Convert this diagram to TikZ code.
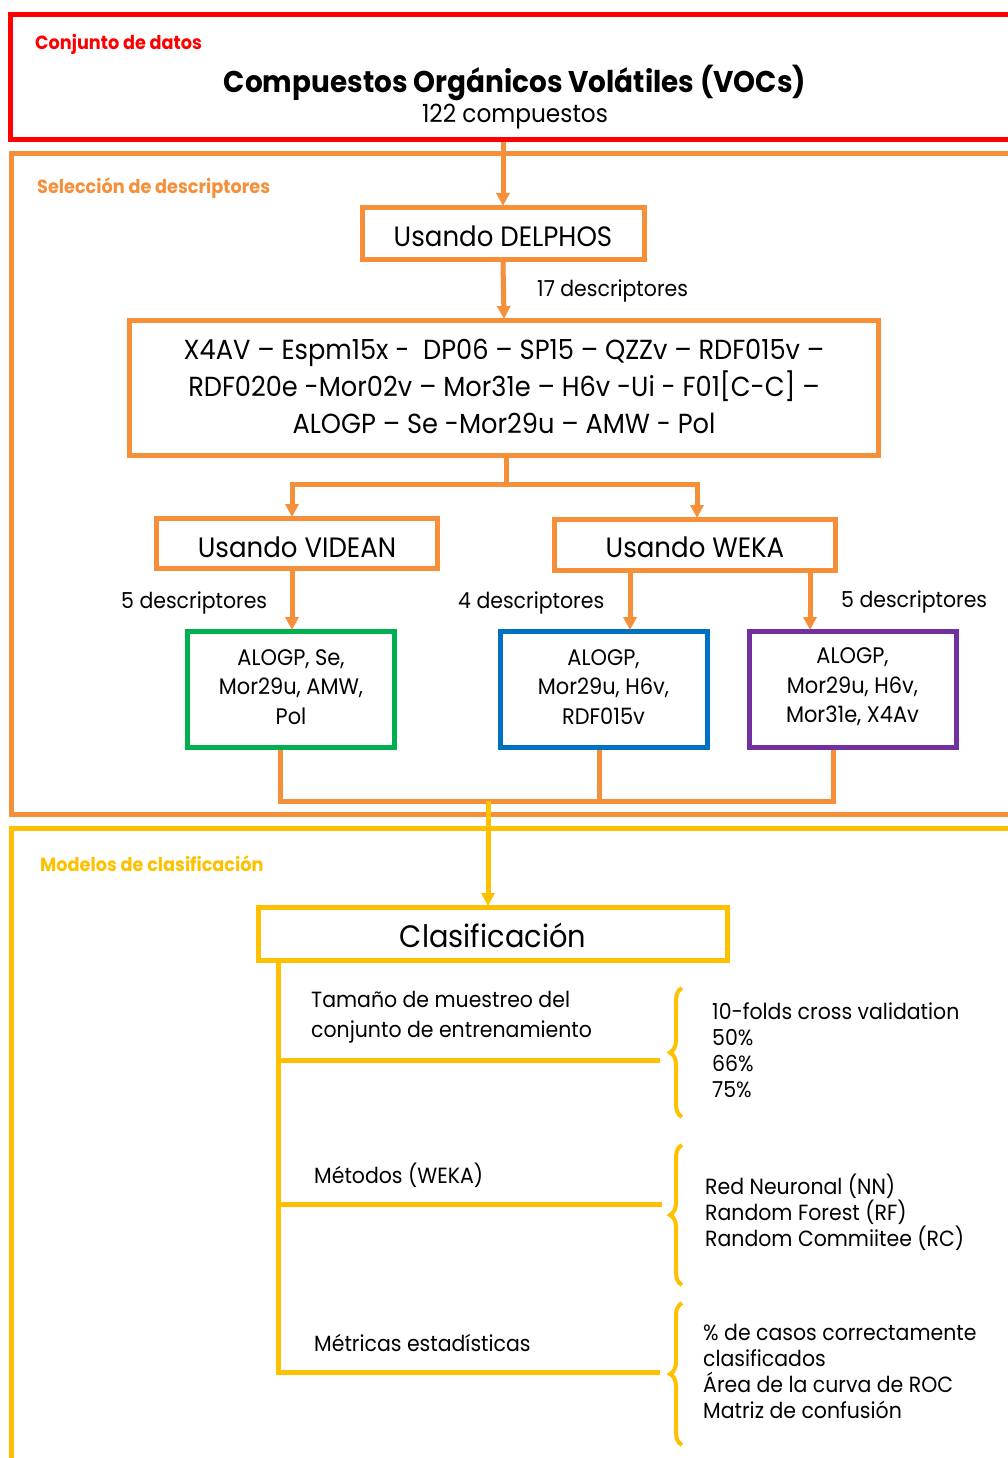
\documentclass[tikz,border=0pt]{standalone}
\usepackage{fontspec}
\setmainfont[FakeStretch=0.93]{Poppins}
\usetikzlibrary{arrows.meta,decorations.pathreplacing}
\definecolor{cred}{HTML}{FF0000}
\definecolor{corange}{HTML}{F58F3A}
\definecolor{cyellow}{HTML}{FFC000}
\definecolor{cgreen}{HTML}{00B050}
\definecolor{cblue}{HTML}{0070C0}
\definecolor{cpurple}{HTML}{7030A0}
\newcommand{\fs}[1]{\fontsize{#1}{1.2\dimexpr#1pt\relax}\selectfont}
\begin{document}
\begin{tikzpicture}[x=1pt,y=-1pt,
  frame/.style={draw=#1, line width=5pt, inner sep=0pt},
  box/.style={draw=#1, line width=5pt, inner sep=0pt, fill=white},
  txt/.style={inner sep=0pt, align=center},
  conn/.style={draw=#1, line width=5pt},
  arr/.style={draw=#1, line width=5pt, -{Triangle[width=13pt,length=13pt]}, shorten >=-1pt},
  seclabel/.style={anchor=west, inner sep=0pt, font=\bfseries\fs{19}, text=#1},
  lbl/.style={inner sep=0pt, font=\fs{22}},
  brace/.style={draw=cyellow, line width=4pt, decorate,
    decoration={brace, amplitude=12pt}}]
\useasboundingbox (0,0) rectangle (1008,1458);

% ---- section frames ----
\node[frame=cred, minimum width=1010pt, minimum height=125pt] (datos) at (515.5,77) {};
\node[frame=corange, minimum width=1009pt, minimum height=661pt] (seleccion) at (516,484) {};
\node[frame=cyellow, minimum width=1009pt, minimum height=650pt] (modelos) at (516,1153) {};

\node[seclabel=cred] (lbldatos) at (35,44) {Conjunto de datos};
\node[seclabel=corange] (lblsel) at (37,188) {Selección de descriptores};
\node[seclabel=cyellow] (lblmod) at (40,864) {Modelos de clasificación};

% ---- data set ----
\node[inner sep=0pt, font=\bfseries\fs{30}] (titulo) at (515,83) {Compuestos Orgánicos Volátiles (VOCs)};
\node[inner sep=0pt, font=\fs{25}] (ncomp) at (515,117) {122 compuestos};

% ---- descriptor selection ----
\node[box=corange, minimum width=282pt, minimum height=52pt] (delphos) at (503,233.5) {};
\node[txt, font=\fs{28}] (tdelphos) at ([yshift=-3pt]delphos.center) {Usando DELPHOS};
\node[box=corange, minimum width=749pt, minimum height=135pt] (todos) at (504,388) {};
\node[txt, font=\fontsize{27.6}{37}\selectfont] (ttodos) at ([yshift=2pt]todos.center)
  {X4AV – Espm15x -\ \ DP06 – SP15 – QZZv – RDF015v –\\
   RDF020e -Mor02v – Mor31e – H6v -Ui - F01[C-C] –\\
   ALOGP – Se -Mor29u – AMW - Pol};
\node[box=corange, minimum width=281pt, minimum height=50pt] (videan) at (297,543.5) {};
\node[txt, font=\fs{28}] (tvidean) at ([yshift=-3.5pt]videan.center) {Usando VIDEAN};
\node[box=corange, minimum width=281pt, minimum height=51pt] (weka) at (695,545) {};
\node[txt, font=\fs{28}] (tweka) at ([yshift=-2pt]weka.center) {Usando WEKA};

\tikzset{res/.style={box=#1, minimum width=207pt, minimum height=116pt},
         restxt/.style={txt, font=\fontsize{22.5}{29.5}\selectfont}}
\node[res=cgreen] (sgreen) at (291,689.5) {};
\node[restxt] (tgreen) at ([yshift=2.5pt]sgreen.center) {ALOGP, Se,\\ Mor29u, AMW,\\ Pol};
\node[res=cblue] (sblue) at (603.5,689.5) {};
\node[restxt] (tblue) at ([yshift=2.5pt]sblue.center) {ALOGP,\\ Mor29u, H6v,\\ RDF015v};
\node[res=cpurple] (spurple) at (852.5,689.5) {};
\node[restxt] (tpurple) at ([yshift=2.5pt]spurple.center) {ALOGP,\\ Mor29u, H6v,\\ Mor31e, X4Av};

\node[lbl, anchor=west] (n17) at (537,291) {17 descriptores};
\node[lbl, anchor=west] (n5a) at (121,603) {5 descriptores};
\node[lbl, anchor=west] (n4) at (458,603) {4 descriptores};
\node[lbl, anchor=west] (n5b) at (841,602) {5 descriptores};

% connectors
\coordinate (split) at (506,484);
\coordinate (merge) at (488,801);
\draw[arr=corange] (delphos.north |- datos.south) -- (delphos.north);
\draw[arr=corange] (delphos.south) -- (todos.north);
\draw[conn=corange] (todos.south -| split) -- (split);
\draw[arr=corange] ([xshift=-5pt]videan.north |- split) -- ([xshift=-5pt]videan.north);
\draw[arr=corange] ([xshift=2pt]weka.north |- split) -- ([xshift=2pt]weka.north);
\draw[conn=corange, line cap=rect] ([xshift=-5pt]videan.north |- split) -- ([xshift=2pt]weka.north |- split);
\draw[arr=corange] ([xshift=-5pt]videan.south) -- ([xshift=-5pt]videan.south |- sgreen.north);
\draw[arr=corange] ([xshift=-65pt]weka.south) -- ([xshift=-65pt]weka.south |- sblue.north);
\draw[arr=corange] ([xshift=115pt]weka.south) -- ([xshift=115pt]weka.south |- spurple.north);
\draw[conn=corange] ([xshift=-11pt]sgreen.south) -- ([xshift=-11pt]sgreen.south |- merge);
\draw[conn=corange] ([xshift=-4.5pt]sblue.south) -- ([xshift=-4.5pt]sblue.south |- merge);
\draw[conn=corange] ([xshift=-19.5pt]spurple.south) -- ([xshift=-19.5pt]spurple.south |- merge);
\draw[conn=corange, line cap=rect] ([xshift=-11pt]sgreen.south |- merge) -- ([xshift=-19.5pt]spurple.south |- merge);

% ---- classification models ----
\node[box=cyellow, minimum width=469pt, minimum height=53pt] (clasif) at (493,934) {};
\node[txt, font=\fs{31}] (tclasif) at ([yshift=-1.5pt]clasif.center) {Clasificación};
\draw[arr=cyellow] (merge) -- (merge |- clasif.north);

\coordinate (trunk) at (278,963);
\coordinate (b1) at (660,1060);
\coordinate (b2) at (662,1204);
\coordinate (b3) at (660,1372);
\draw[conn=cyellow] (trunk |- clasif.south) -- (trunk |- b3) -- (b3);
\draw[conn=cyellow] (trunk |- b1) -- (b1);
\draw[conn=cyellow] (trunk |- b2) -- (b2);

\node[lbl, anchor=west, align=left, font=\fontsize{22}{30}\selectfont] (tam) at (311,1017) {Tamaño de muestreo del\\ conjunto de entrenamiento};
\node[lbl, anchor=west] (met) at (314,1175) {Métodos (WEKA)};
\node[lbl, anchor=west] (metr) at (314,1343) {Métricas estadísticas};

\coordinate (br1t) at (682,988);  \coordinate (br1b) at (682,1117);
\coordinate (br2t) at (682,1145); \coordinate (br2b) at (682,1285);
\coordinate (br3t) at (682,1303); \coordinate (br3b) at (682,1445);
\draw[brace] (br1b) -- (br1t);
\draw[brace] (br2b) -- (br2t);
\draw[brace] (br3b) -- (br3t);

\tikzset{lst/.style={lbl, anchor=north west, align=left, font=\fontsize{22}{26}\selectfont}}
\node[lst] (opts) at (712,1002) {10-folds cross validation\\ 50\%\\ 66\%\\ 75\%};
\node[lst] (algs) at (705,1174) {Red Neuronal (NN)\\ Random Forest (RF)\\ Random Commiitee (RC)};
\node[lst] (mets) at (703,1324.5) {\% de casos correctamente\\ clasificados\\ Área de la curva de ROC\\ Matriz de confusión};
\end{tikzpicture}
\end{document}
